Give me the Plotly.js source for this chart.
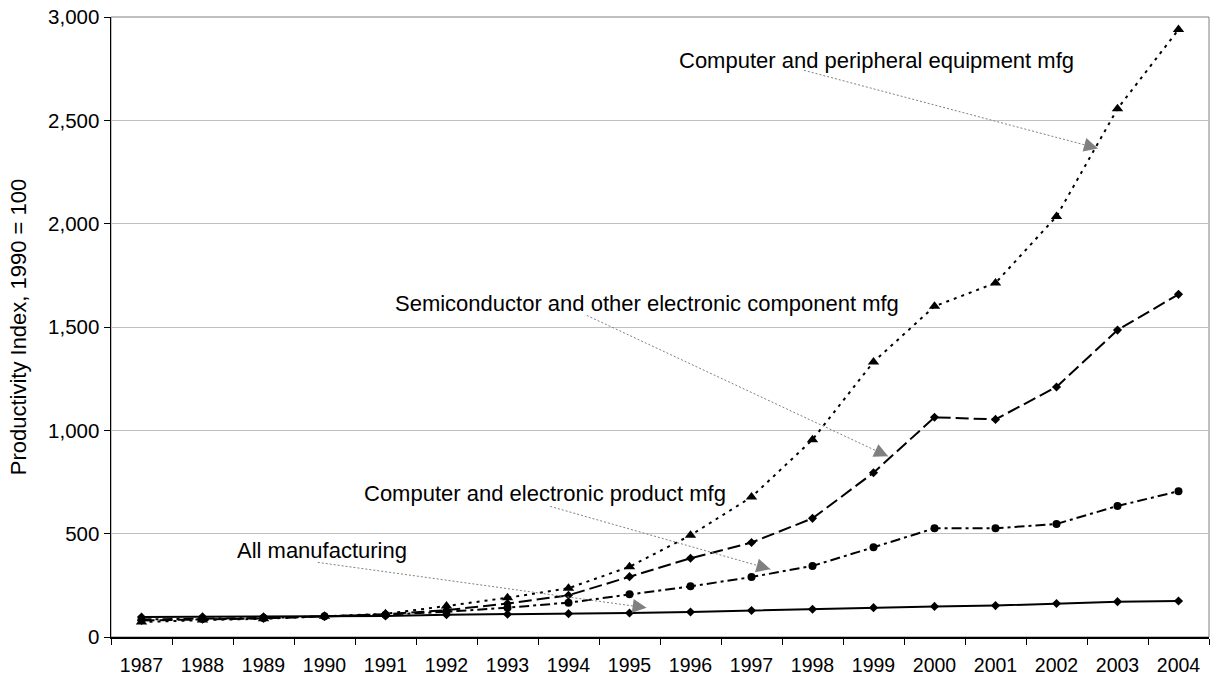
<!DOCTYPE html>
<html>
<head>
<meta charset="utf-8">
<script src="https://cdn.plot.ly/plotly-3.0.1.min.js"></script>
<style>
  html, body { margin: 0; padding: 0; background: #ffffff; }
  #chart { width: 1211px; height: 681px; }
</style>
</head>
<body>
<div id="chart"></div>
<script>
// ---- Data ----
const years = ["1987","1988","1989","1990","1991","1992","1993","1994","1995",
               "1996","1997","1998","1999","2000","2001","2002","2003","2004"];

const computerPeripheral = [72, 82, 88, 100, 112, 150, 190, 236, 340,
                            492, 677, 955, 1331, 1600, 1713, 2035, 2556, 2939];

const semiconductor = [80, 86, 90, 100, 110, 130, 162, 202, 292,
                       381, 457, 574, 795, 1063, 1053, 1210, 1485, 1658];

const computerElectronic = [85, 88, 92, 100, 108, 122, 142, 166, 207,
                            245, 290, 344, 434, 526, 526, 547, 634, 705];

const allManufacturing = [97, 98, 98, 100, 102, 108, 110, 113, 116,
                          121, 128, 134, 142, 148, 152, 162, 171, 174];

const seriesNames = ["Computer and peripheral equipment mfg",
                     "Semiconductor and other electronic component mfg",
                     "Computer and electronic product mfg",
                     "All manufacturing"];

const yTickVals = [0, 500, 1000, 1500, 2000, 2500, 3000];
const yTitle = "Productivity Index, 1990 = 100";

// ---- Traces ----
const FONT = "Liberation Sans, Arial, Helvetica, sans-serif";
function mk(y, name, dash, symbol, size) {
  return {
    x: years, y: y, name: name, type: "scatter", mode: "lines+markers",
    line: { color: "#000000", width: 2, dash: dash },
    marker: { color: "#000000", symbol: symbol, size: size },
    hoverinfo: "skip"
  };
}
const data = [
  mk(allManufacturing, seriesNames[3], "solid", "diamond", 7),
  mk(computerElectronic, seriesNames[2], "10px,4px,3px,4px", "circle", 8),
  mk(semiconductor, seriesNames[1], "13px,5px", "diamond", 7),
  mk(computerPeripheral, seriesNames[0], "3px,5px", "triangle-up", 10)
];

// ---- Callouts: label position, arrow tail, arrow tip (x as category index) ----
const callouts = [
  { text: seriesNames[0], lx: 12.05, ly: 2790, tx: 10.86, ty: 2742, hx: 15.68, hy: 2364, ax: -9.7, ay: -2.6 },
  { text: seriesNames[1], lx: 8.28,  ly: 1615, tx: 7.30,  ty: 1556, hx: 12.24, hy: 874,  ax: -9.1, ay: -4.2 },
  { text: seriesNames[2], lx: 6.61,  ly: 695,  tx: 6.70,  ty: 632,  hx: 10.31, hy: 328,  ax: -9.6, ay: -2.7 },
  { text: seriesNames[3], lx: 2.96,  ly: 420,  tx: 2.89,  ty: 361,  hx: 8.28,  hy: 141,  ax: -9.9, ay: -1.4 }
];

const annotations = [];
const shapes = [
  { type: "rect", xref: "paper", yref: "paper", x0: 0, x1: 1, y0: 0, y1: 1,
    line: { color: "#808080", width: 1 }, layer: "below" }
];
callouts.forEach(c => {
  annotations.push({
    x: c.lx, y: c.ly, xref: "x", yref: "y", text: c.text, showarrow: false,
    xanchor: "center", yanchor: "middle",
    font: { family: FONT, size: 22, color: "#000000" }
  });
  shapes.push({
    type: "line", xref: "x", yref: "y", x0: c.tx, y0: c.ty, x1: c.hx, y1: c.hy,
    line: { color: "#808080", width: 1, dash: "2px,2px" }
  });
  annotations.push({
    x: c.hx, y: c.hy, xref: "x", yref: "y", text: "", showarrow: true,
    ax: c.ax, ay: c.ay, arrowhead: 2, arrowsize: 2.8, arrowwidth: 1,
    arrowcolor: "#808080", standoff: 0
  });
});

const layout = {
  width: 1211, height: 681,
  margin: { l: 111, r: 2, t: 17, b: 44, pad: 0 },
  paper_bgcolor: "#ffffff", plot_bgcolor: "#ffffff",
  showlegend: false,
  font: { family: FONT, size: 20, color: "#000000" },
  xaxis: {
    type: "category", range: [-0.5, 17.5], fixedrange: true,
    showline: true, linecolor: "#000000", linewidth: 1.5,
    ticks: "outside", tickson: "boundaries", ticklen: 6, tickcolor: "#000000", tickwidth: 1,
    ticklabelstandoff: 10,
    showgrid: false, zeroline: false,
    tickfont: { family: FONT, size: 19.5, color: "#000000" }
  },
  yaxis: {
    range: [0, 3000], tickvals: yTickVals, tickformat: ",d", fixedrange: true,
    showline: true, linecolor: "#000000", linewidth: 1.5,
    ticks: "outside", ticklen: 6, tickcolor: "#000000", tickwidth: 1,
    showgrid: true, gridcolor: "#c0c0c0", gridwidth: 1, zeroline: false,
    tickfont: { family: FONT, size: 20.5, color: "#000000" },
    title: { text: yTitle, font: { family: FONT, size: 22, color: "#000000" }, standoff: 15 }
  },
  annotations: annotations,
  shapes: shapes
};

Plotly.newPlot("chart", data, layout, { displayModeBar: false, staticPlot: true });
</script>
</body>
</html>
